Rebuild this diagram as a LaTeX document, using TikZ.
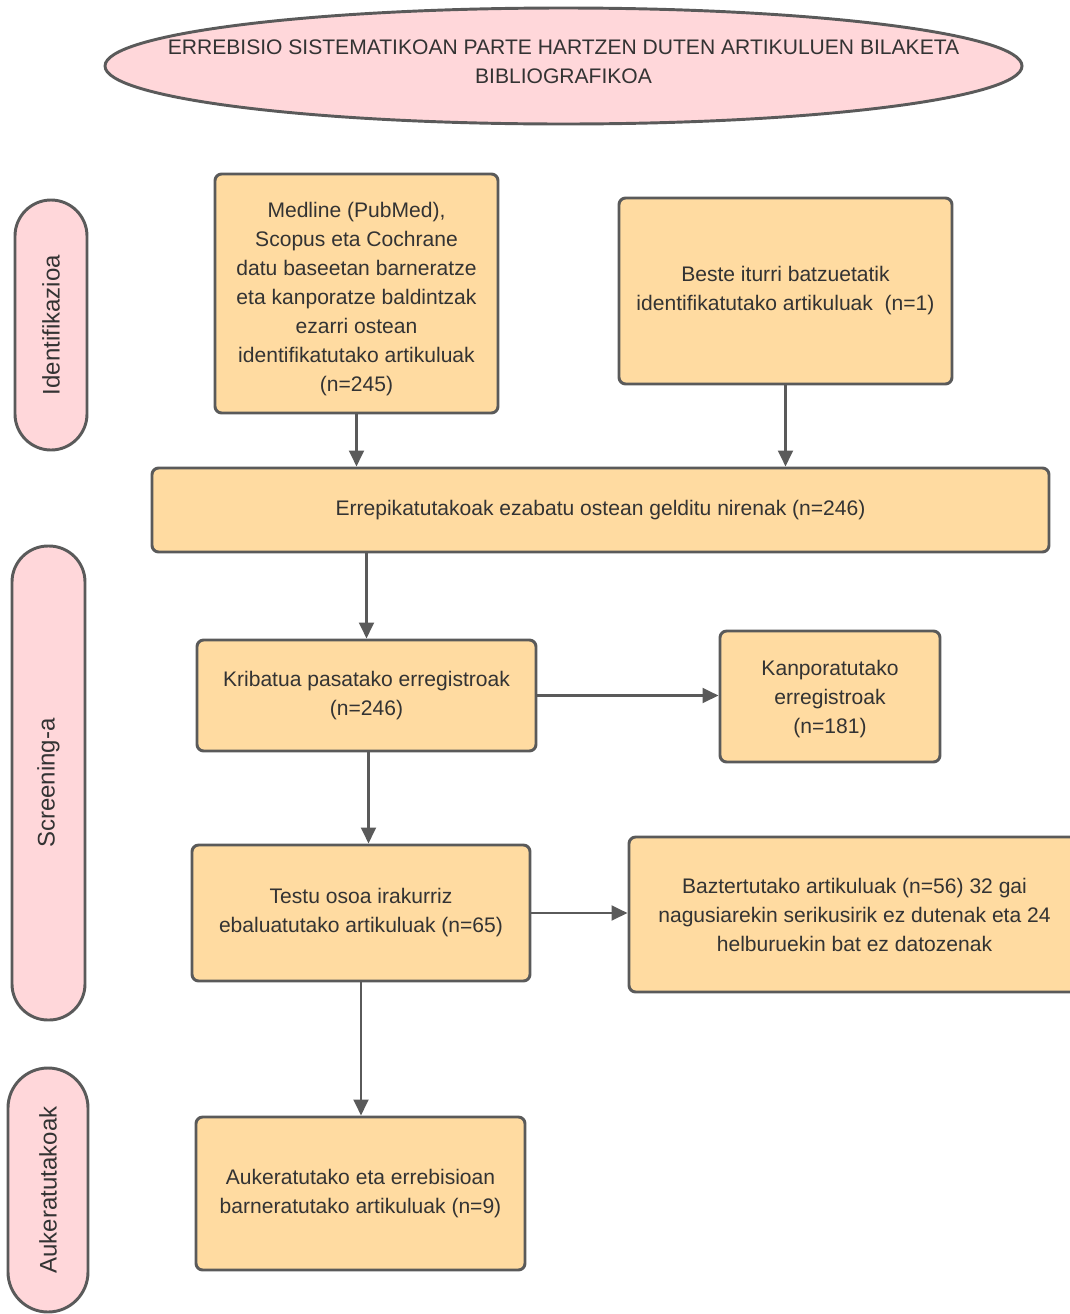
\documentclass[tikz,border=0pt]{standalone}
\usepackage{fontspec}
\setmainfont{Liberation Sans}
\usetikzlibrary{arrows.meta,shapes.geometric}
\definecolor{boxfill}{HTML}{FFDBA1}
\definecolor{pinkfill}{HTML}{FFD7DA}
\definecolor{edge}{HTML}{5A5A5A}
\definecolor{txt}{HTML}{333333}
\begin{document}
\begin{tikzpicture}[x=0.75pt,y=-0.75pt,
 box/.style={draw=edge, line width=2.2pt, fill=boxfill, rounded corners=5pt, align=center, text=txt, font=\fontsize{15.8}{21.75}\selectfont, inner sep=2pt},
 side/.style={draw=edge, line width=2.2pt, fill=pinkfill, rotate=90, text=txt, font=\fontsize{18}{21}\selectfont, inner sep=0pt},
 arr/.style={draw=edge, line width=2.2pt, -{Triangle[length=12pt,width=11pt]}}]
\useasboundingbox (0,0) rectangle (1070,1314);
\clip (0,0) rectangle (1070,1314);

% title
\node (title) [ellipse, draw=edge, line width=2.2pt, fill=pinkfill, minimum width=687.75pt, minimum height=87pt, inner sep=0pt] at (563.5,66) {};
\node (titletext) [align=center, text=txt, font=\fontsize{15.8}{21.75}\selectfont] at ([yshift=3pt]title.center) {ERREBISIO SISTEMATIKOAN PARTE HARTZEN DUTEN ARTIKULUEN BILAKETA\\BIBLIOGRAFIKOA};

% side labels
\node (s1) [side, minimum width=187.5pt, minimum height=54pt, rounded corners=27pt] at (51,325) {Identifikazioa};
\node (s2) [side, minimum width=355.5pt, minimum height=54.75pt, rounded corners=27pt] at (48.5,783) {Screening-a};
\node (s3) [side, minimum width=183pt, minimum height=60pt, rounded corners=30pt] at (48,1190) {Aukeratutakoak};

% boxes
\node (b1) [box, minimum width=212.25pt, minimum height=179.25pt] at (356.5,293.5) {\rule{0pt}{20pt}Medline (PubMed),\\Scopus eta Cochrane\\datu baseetan barneratze\\eta kanporatze baldintzak\\ezarri ostean\\identifikatutako artikuluak\\(n=245)};
\node (b2) [box, minimum width=249.75pt, minimum height=139.5pt] at (785.5,291) {Beste iturri batzuetatik\\identifikatutako artikuluak~~(n=1)};
\node (b3) [box, minimum width=672.75pt, minimum height=63pt] at (600.5,510) {Errepikatutakoak ezabatu ostean gelditu nirenak (n=246)};
\node (b4) [box, minimum width=254.25pt, minimum height=83.25pt] at (366.5,695.5) {Kribatua pasatako erregistroak\\(n=246)};
\node (b5) [box, minimum width=165pt, minimum height=98.25pt] at (830,696.5) {\rule{0pt}{15pt}Kanporatutako\\erregistroak\\(n=181)};
\node (b6) [box, minimum width=253.5pt, minimum height=102pt] at (361,913) {Testu osoa irakurriz\\ebaluatutako artikuluak (n=65)};
\node (b7) [box, minimum width=338.25pt, minimum height=116.25pt] at (854.5,914.5) {Baztertutako artikuluak (n=56) 32 gai\\nagusiarekin serikusirik ez dutenak eta 24\\helburuekin bat ez datozenak};
\node (b8) [box, minimum width=246.75pt, minimum height=114.75pt] at (360.5,1193.5) {Aukeratutako eta errebisioan\\barneratutako artikuluak (n=9)};

% arrows
\draw[arr] (b1.south) -- (b1.south |- b3.north);
\draw[arr] (b2.south) -- (b2.south |- b3.north);
\draw[arr] (b4.north |- b3.south) -- (b4.north);
\draw[arr] (b4.east) -- (b4.east -| b5.west);
\draw[arr] ([xshift=1.5pt]b4.south) -- ([xshift=1.5pt]b4.south |- b6.north);
\draw[arr] (b6.east) -- (b6.east -| b7.west);
\draw[arr] (b6.south) -- (b6.south |- b8.north);
\end{tikzpicture}
\end{document}
